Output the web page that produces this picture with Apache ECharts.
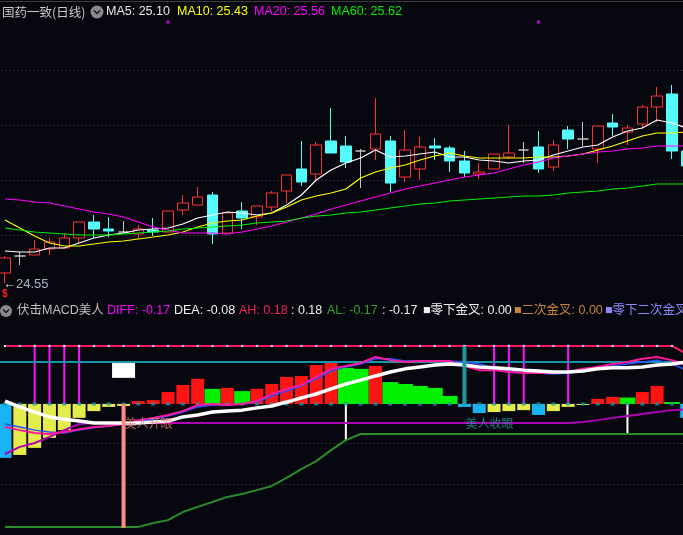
<!DOCTYPE html>
<html><head><meta charset="utf-8">
<script src="https://cdn.jsdelivr.net/npm/echarts@6/dist/echarts.min.js"></script>
<style>html,body{margin:0;padding:0;background:#07070f;}#c{width:683px;height:535px;}</style>
</head><body><div id="c"></div>
<script>
// ---------- data ----------
const categories = ['1','2','3','4','5','6','7','8','9','10','11','12','13','14','15','16','17','18','19','20','21','22','23','24','25','26','27','28','29','30','31','32','33','34','35','36','37','38','39','40','41','42','43','44','45','46','47'];

const candleOpen  = [24.65,24.82,24.83,24.89,24.90,25.00,25.16,25.09,25.06,25.04,25.08,25.06,25.28,25.33,25.43,25.05,25.27,25.21,25.31,25.47,25.69,25.64,25.97,25.92,25.87,25.89,25.97,25.61,25.69,25.92,25.90,25.77,25.64,25.69,25.81,25.88,25.91,25.71,26.08,25.99,25.89,26.15,26.06,26.14,26.31,26.44,25.87];
const candleClose = [24.80,24.82,24.89,24.96,25.00,25.16,25.09,25.07,25.06,25.09,25.06,25.27,25.35,25.41,25.04,25.25,25.20,25.32,25.45,25.63,25.56,25.93,25.85,25.76,25.87,26.04,25.55,25.88,25.91,25.90,25.77,25.65,25.66,25.84,25.85,25.88,25.69,25.93,25.99,25.99,26.12,26.11,26.10,26.31,26.42,25.87,25.72];
const candleLow   = [24.55,24.73,24.83,24.83,24.90,24.95,25.00,25.01,25.05,24.99,25.02,25.06,25.23,25.33,24.94,25.05,25.09,25.13,25.27,25.35,25.52,25.58,25.85,25.70,25.50,25.78,25.46,25.56,25.58,25.78,25.66,25.61,25.59,25.69,25.79,25.75,25.65,25.67,25.89,25.92,25.75,26.02,25.93,26.09,26.16,25.79,25.72];
const candleHigh  = [24.82,24.86,24.98,25.00,25.05,25.16,25.23,25.21,25.17,25.13,25.20,25.27,25.43,25.51,25.46,25.25,25.36,25.32,25.47,25.63,25.97,25.96,26.30,26.02,25.89,26.40,26.02,26.08,26.01,26.00,25.92,25.87,25.75,25.84,26.13,25.96,26.07,25.98,26.12,26.16,26.12,26.24,26.13,26.33,26.51,26.53,25.87];

const ma5  = [24.87,24.86,24.86,24.90,24.90,24.95,25.00,25.03,25.05,25.08,25.09,25.10,25.14,25.20,25.23,25.26,25.25,25.23,25.25,25.33,25.43,25.58,25.68,25.75,25.80,25.88,25.81,25.82,25.84,25.86,25.81,25.81,25.78,25.77,25.75,25.77,25.78,25.83,25.87,25.91,25.93,26.01,26.07,26.10,26.18,26.15,26.10];
const ma10 = [25.18,25.10,25.02,24.95,24.92,24.92,24.94,24.96,24.97,24.99,25.01,25.03,25.06,25.11,25.15,25.17,25.18,25.22,25.25,25.31,25.38,25.42,25.45,25.49,25.60,25.66,25.70,25.73,25.78,25.82,25.85,25.82,25.80,25.80,25.80,25.80,25.81,25.81,25.82,25.84,25.88,25.92,25.97,26.02,26.05,26.05,26.06];
const ma20 = [25.39,25.38,25.36,25.35,25.32,25.29,25.26,25.24,25.21,25.16,25.11,25.08,25.05,25.05,25.05,25.04,25.06,25.09,25.12,25.16,25.20,25.24,25.29,25.33,25.37,25.41,25.45,25.49,25.52,25.55,25.58,25.61,25.63,25.65,25.69,25.73,25.76,25.80,25.82,25.84,25.86,25.87,25.89,25.90,25.92,25.92,25.92];
const ma60 = [25.10,25.08,25.06,25.05,25.04,25.03,25.03,25.03,25.04,25.05,25.06,25.07,25.09,25.10,25.11,25.12,25.13,25.15,25.16,25.17,25.20,25.22,25.23,25.25,25.26,25.28,25.30,25.32,25.34,25.35,25.37,25.38,25.39,25.40,25.41,25.42,25.42,25.43,25.45,25.46,25.47,25.49,25.50,25.52,25.54,25.54,25.54];

const signalBars = [11, 36];
const signalLevel = 27.16;

// lower indicator pane
const macd = [-0.167,-0.158,-0.136,-0.105,-0.081,-0.043,-0.022,-0.009,-0.006,0.009,0.012,0.037,0.059,0.078,0.047,0.050,0.040,0.047,0.062,0.084,0.087,0.121,0.127,0.112,0.109,0.118,0.068,0.062,0.056,0.050,0.025,-0.009,-0.028,-0.025,-0.022,-0.019,-0.034,-0.022,-0.009,-0.003,0.016,0.022,0.020,0.037,0.056,0.006,-0.043];
const ahLine = [0.18,0.18,0.18,0.18,0.18,0.18,0.18,0.18,0.18,0.18,0.18,0.18,0.18,0.18,0.18,0.18,0.18,0.18,0.18,0.18,0.18,0.18,0.18,0.18,0.18,0.18,0.18,0.18,0.18,0.18,0.18,0.18,0.18,0.18,0.18,0.18,0.18,0.18,0.18,0.18,0.18,0.18,0.18,0.18,0.18,0.18,0.155];
const diffLine = [-0.071,-0.081,-0.090,-0.093,-0.087,-0.078,-0.071,-0.068,-0.062,-0.050,-0.043,-0.034,-0.022,-0.003,0,-0.003,0,0.009,0.031,0.047,0.059,0.084,0.109,0.118,0.127,0.146,0.136,0.130,0.133,0.133,0.133,0.118,0.105,0.105,0.099,0.096,0.096,0.096,0.099,0.109,0.115,0.124,0.130,0.140,0.146,0.136,0.121];
const deaLine = [-0.062,-0.071,-0.081,-0.087,-0.090,-0.081,-0.074,-0.068,-0.062,-0.053,-0.047,-0.037,-0.025,-0.009,-0.003,-0.003,0,0.006,0.025,0.040,0.056,0.078,0.102,0.115,0.124,0.140,0.140,0.133,0.133,0.133,0.133,0.130,0.124,0.112,0.102,0.096,0.096,0.093,0.096,0.105,0.112,0.118,0.124,0.130,0.136,0.124,0.105];
const trendLine = [0.009,-0.009,-0.025,-0.040,-0.047,-0.053,-0.059,-0.059,-0.059,-0.059,-0.056,-0.053,-0.040,-0.034,-0.025,-0.022,-0.019,-0.012,-0.006,0.006,0.019,0.031,0.047,0.062,0.074,0.087,0.099,0.109,0.115,0.121,0.124,0.121,0.115,0.112,0.109,0.105,0.102,0.099,0.099,0.102,0.109,0.112,0.112,0.115,0.121,0.124,0.130];
const baseLine = [-0.155,-0.133,-0.121,-0.102,-0.081,-0.062,-0.059,-0.059,-0.059,-0.059,-0.059,-0.059,-0.059,-0.059,-0.059,-0.059,-0.059,-0.059,-0.059,-0.059,-0.059,-0.059,-0.059,-0.059,-0.059,-0.059,-0.059,-0.059,-0.059,-0.059,-0.059,-0.059,-0.059,-0.059,-0.059,-0.059,-0.059,-0.059,-0.059,-0.056,-0.050,-0.043,-0.037,-0.031,-0.025,-0.019,-0.016];
const cumLine = [-0.381,-0.381,-0.381,-0.381,-0.381,-0.381,-0.381,-0.381,-0.381,-0.381,-0.369,-0.360,-0.335,-0.319,-0.304,-0.288,-0.279,-0.267,-0.254,-0.229,-0.202,-0.177,-0.143,-0.112,-0.093,-0.093,-0.093,-0.093,-0.093,-0.093,-0.093,-0.093,-0.093,-0.093,-0.093,-0.093,-0.093,-0.093,-0.093,-0.093,-0.093,-0.093,-0.093,-0.093,-0.093,-0.093,-0.093];
const tealLevel = 0.130;
const crossBars = [2, 3, 4, 5, 33, 34, 35, 38];
const crossLevel = 0.18;
const exitBar = 31;
const dropBars = [23, 42];
const openEyeBar = 8;
const openEyeDepth = -0.384;
const boxBar = 8;
const boxLow = 0.081;
const boxHigh = 0.127;
const eyeLabels = [{ bar: 8, text: '美人开眼', level: -0.059, color: '#f07a78' }, { bar: 31, text: '美人收眼', level: -0.059, color: '#1e9aa0' }];

// ---------- build ----------
const bg = '#07070f';
const UP = '#ff3232', DOWN = '#54fcfc', DOJI = '#c4c4c4';

const candleData = categories.map((c, i) => {
  const o = candleOpen[i], cl = candleClose[i];
  const item = { value: [o, cl, candleLow[i], candleHigh[i]] };
  if (o === cl) item.itemStyle = { color: DOJI, color0: DOJI, borderColor: DOJI, borderColor0: DOJI, borderColorDoji: DOJI };
  return item;
});
const signalData = categories.map((c, i) => signalBars.includes(i) ? signalLevel : '-');

function macdKind(i) {
  const v = macd[i], p = i > 0 ? macd[i - 1] : null;
  if (v >= 0) return (p === null || v >= p) ? 'red' : 'green';
  return (p === null || v < p) ? 'cyan' : 'yellow';
}
const macdColors = { red: '#ff1414', green: '#00f000', cyan: '#18b4f4', yellow: '#e4ec4c' };
const macdMain = macd.map((v, i) => macdKind(i) === 'green' ? '-' : { value: v, itemStyle: { color: macdColors[macdKind(i)] } });
const macdGreen = macd.map((v, i) => macdKind(i) === 'green' ? v : '-');

const sticks2 = categories.map((c, i) => {
  if (crossBars.includes(i)) return { value: crossLevel, itemStyle: { color: '#ff10ff' } };
  if (dropBars.includes(i)) return { value: cumLine[i], itemStyle: { color: '#ffffff' } };
  return '-';
});
const sticks4 = categories.map((c, i) => {
  if (i === exitBar) return { value: crossLevel, itemStyle: { color: '#1a9a9a' } };
  if (i === openEyeBar) return { value: openEyeDepth, itemStyle: { color: '#ff8a84' } };
  return '-';
});
const boxBase = categories.map((c, i) => i === boxBar ? boxLow : '-');
const boxTop = categories.map((c, i) => i === boxBar ? +(boxHigh - boxLow).toFixed(3) : '-');
const zeroMarks = categories.map(() => 0);

const gridX = { left: -2.41, width: 696.54 };
const hiddenCat = (gi) => ({ type: 'category', gridIndex: gi, data: categories, show: false, boundaryGap: true });

const dotted = { color: '#4c4c4c', width: 1, type: [1, 3] };
const LAT = '12.5px "Liberation Sans"';
const MIX = '12.5px "Liberation Sans", "Noto Sans CJK SC"';
const txt = (text, x, y, fill, font) => ({ type: 'text', z: 20, style: { text, x, y, fill, font: font || LAT, verticalAlign: 'middle' } });

const option = {
  backgroundColor: bg,
  animation: false,
  grid: [
    Object.assign({ top: 15, height: 275, outerBoundsMode: 'none' }, gridX),
    Object.assign({ top: 322, height: 209, outerBoundsMode: 'none' }, gridX),
    Object.assign({ top: 322, height: 200, outerBoundsMode: 'none' }, gridX)
  ],
  xAxis: [hiddenCat(0), hiddenCat(1), hiddenCat(1), hiddenCat(1), hiddenCat(1), hiddenCat(1), hiddenCat(2)],
  yAxis: [
    { type: 'value', gridIndex: 0, min: 24.48, max: 27.23, show: false, splitLine: { show: false } },
    { type: 'value', gridIndex: 0, min: 0, max: 275, interval: 55, axisLine: { show: false }, axisTick: { show: false }, axisLabel: { show: false },
      splitLine: { show: true, showMinLine: false, showMaxLine: false, lineStyle: dotted } },
    { type: 'value', gridIndex: 1, min: -0.3937, max: 0.2542, show: false, splitLine: { show: false } },
    { type: 'value', gridIndex: 2, min: 0, max: 200, interval: 40.5, inverse: true, axisLine: { show: false }, axisTick: { show: false }, axisLabel: { show: false },
      splitLine: { show: true, showMinLine: false, showMaxLine: false, lineStyle: dotted } }
  ],
  series: [
    { type: 'candlestick', name: 'K', xAxisIndex: 0, yAxisIndex: 0, barWidth: 11, data: candleData, z: 3,
      itemStyle: { color: bg, color0: DOWN, borderColor: UP, borderColor0: DOWN, borderColorDoji: DOJI, borderWidth: 1 },
      markPoint: { symbol: 'circle', symbolSize: 0, silent: true,
        data: [{ type: 'min', valueDim: 'lowest' }],
        label: { show: true, position: 'right', distance: 0, offset: [-2, 1],
          formatter: (p) => '{a|←}{b|' + p.value.toFixed(2) + '}',
          rich: { a: { color: '#e0e0e0', fontSize: 13, fontFamily: 'Liberation Sans' }, b: { color: '#a8b4c4', fontSize: 13, fontFamily: 'Liberation Sans' } } } } },
    { type: 'line', name: 'MA5', xAxisIndex: 0, yAxisIndex: 0, data: ma5, showSymbol: false, z: 5, lineStyle: { color: '#ffffff', width: 1.2 } },
    { type: 'line', name: 'MA10', xAxisIndex: 0, yAxisIndex: 0, data: ma10, showSymbol: false, z: 5, lineStyle: { color: '#ffff00', width: 1.2 } },
    { type: 'line', name: 'MA20', xAxisIndex: 0, yAxisIndex: 0, data: ma20, showSymbol: false, z: 5, lineStyle: { color: '#ff00ff', width: 1.2 } },
    { type: 'line', name: 'MA60', xAxisIndex: 0, yAxisIndex: 0, data: ma60, showSymbol: false, z: 5, lineStyle: { color: '#00ee00', width: 1.2 } },
    { type: 'scatter', name: 'signal', xAxisIndex: 0, yAxisIndex: 0, data: signalData, symbol: 'rect', symbolSize: [3, 3], itemStyle: { color: '#ff00ff' }, z: 6 },

    // lower pane
    { type: 'bar', name: 'MACD', xAxisIndex: 1, yAxisIndex: 2, barWidth: 13, data: macdMain, z: 2 },
    { type: 'bar', name: 'MACDg', xAxisIndex: 2, yAxisIndex: 2, barWidth: 16, data: macdGreen, itemStyle: { color: macdColors.green }, z: 2 },
    { type: 'bar', name: 'boxBase', xAxisIndex: 5, yAxisIndex: 2, barWidth: 23, stack: 'box', data: boxBase, itemStyle: { color: 'rgba(0,0,0,0)' }, z: 3 },
    { type: 'bar', name: 'box', xAxisIndex: 5, yAxisIndex: 2, barWidth: 23, stack: 'box', data: boxTop, itemStyle: { color: '#ffffff' }, z: 3 },
    { type: 'bar', name: 'sticks2', xAxisIndex: 3, yAxisIndex: 2, barWidth: 2, data: sticks2, z: 3 },
    { type: 'scatter', name: 'zero', xAxisIndex: 1, yAxisIndex: 2, data: zeroMarks, symbol: 'rect', symbolSize: [4, 3], itemStyle: { color: '#1a9aa0' }, z: 4 },
    { type: 'line', name: 'cum', xAxisIndex: 1, yAxisIndex: 2, data: cumLine, showSymbol: false, z: 4, lineStyle: { color: '#2a8c2a', width: 2 } },
    { type: 'line', name: 'base', xAxisIndex: 1, yAxisIndex: 2, data: baseLine, showSymbol: false, z: 4, lineStyle: { color: '#b000b4', width: 2 },
      markLine: { silent: true, symbol: 'none', label: { show: false }, lineStyle: { color: '#1896a8', width: 2, type: 'solid' }, data: [{ yAxis: tealLevel }] } },
    { type: 'line', name: 'DEA', xAxisIndex: 1, yAxisIndex: 2, data: deaLine, showSymbol: false, z: 5, lineStyle: { color: '#2850ff', width: 1.5 } },
    { type: 'line', name: 'DIFF', xAxisIndex: 1, yAxisIndex: 2, data: diffLine, showSymbol: false, z: 5, lineStyle: { color: '#ff1a9c', width: 2 } },
    { type: 'line', name: 'trend', xAxisIndex: 1, yAxisIndex: 2, data: trendLine, showSymbol: false, z: 6, lineStyle: { color: '#ffffff', width: 3.5 } },
    { type: 'line', name: 'AH', xAxisIndex: 1, yAxisIndex: 2, data: ahLine, showSymbol: true, showAllSymbol: true, symbol: 'rect', symbolSize: [2, 2], z: 6,
      itemStyle: { color: '#ffffff' }, lineStyle: { color: '#ff1464', width: 2 } },
    { type: 'bar', name: 'sticks4', xAxisIndex: 4, yAxisIndex: 2, barWidth: 4, data: sticks4, z: 7 }
  ].concat(eyeLabels.map(l => ({
    type: 'scatter', xAxisIndex: 1, yAxisIndex: 2, symbolSize: 0, z: 8,
    data: [[l.bar, l.level]],
    label: { show: true, position: 'right', distance: 1, formatter: l.text, color: l.color, fontSize: 12, fontFamily: 'Noto Sans CJK SC' }
  }))),
  graphic: [
    { type: 'line', shape: { x1: 0, y1: 1.5, x2: 683, y2: 1.5 }, style: { stroke: '#3c3c3c', lineWidth: 1 }, z: 10 },
    txt('国药一致(日线)', 2, 12, '#c8c8c8', '12.5px "Noto Sans CJK SC"'),
    { type: 'circle', shape: { cx: 97, cy: 12, r: 6.5 }, style: { fill: '#8a8a8a' } },
    { type: 'polyline', shape: { points: [[94, 10.5], [97, 13.5], [100, 10.5]] }, style: { stroke: '#1a1a1a', lineWidth: 1.5, fill: null } },
    txt('MA5: 25.10', 106, 12, '#e8e8e8'),
    txt('MA10: 25.43', 177, 12, '#ffff00'),
    txt('MA20: 25.56', 254, 12, '#ff00ff'),
    txt('MA60: 25.62', 331, 12, '#00ee00'),

    txt('$', 2, 294, '#ff2020', 'bold 10px "Liberation Sans"'),
    { type: 'circle', shape: { cx: 6, cy: 311, r: 6 }, style: { fill: '#8a8a8a' } },
    { type: 'polyline', shape: { points: [[3, 309.5], [6, 312.5], [9, 309.5]] }, style: { stroke: '#1a1a1a', lineWidth: 1.5, fill: null } },
    txt('伏击MACD美人', 17, 311, '#c0c0c0', MIX),
    txt('DIFF: -0.17', 107, 311, '#ff00ff'),
    txt('DEA: -0.08', 174, 311, '#f0f0f0'),
    txt('AH: 0.18', 239, 311, '#f0245a'),
    txt(': 0.18', 291, 311, '#f0f0f0'),
    txt('AL: -0.17', 327, 311, '#32a032'),
    txt(': -0.17', 382, 311, '#f0f0f0'),
    txt('■零下金叉: 0.00', 423, 311, '#f0f0f0', MIX),
    txt('■二次金叉: 0.00', 514, 311, '#c8843c', MIX),
    txt('■零下二次金叉', 605, 311, '#8a8aff', MIX)
  ]
};

const chart = echarts.init(document.getElementById('c'), null, { renderer: 'canvas' });
chart.setOption(option);
</script>
</body></html>
